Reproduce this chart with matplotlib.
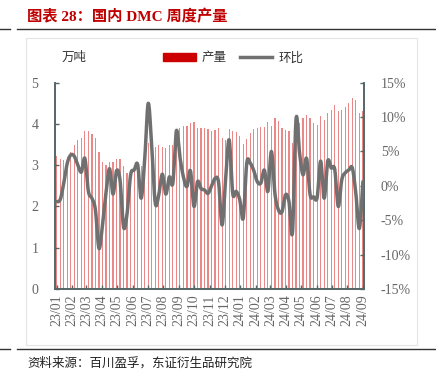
import numpy as np
import pandas as pd
import matplotlib
matplotlib.use('Agg')
import matplotlib.pyplot as plt
import matplotlib.dates as mdates
from matplotlib.patches import Patch, Rectangle
from matplotlib.lines import Line2D

# weekly DMC output (10k t) and week-on-week change (%)
dates = pd.date_range('2023-01-01', periods=88, freq='7D')
output = [3.22, 3.15, 3.13, 3.20, 3.33, 3.49, 3.60, 3.67, 3.83, 3.82,
          3.75, 3.67, 3.33, 3.09, 3.00, 3.09, 3.07, 3.15, 3.16, 2.97,
          2.82, 2.88, 2.95, 3.00, 2.97, 3.00, 3.55, 3.53, 3.43, 3.48,
          3.45, 3.42, 3.48, 3.48, 3.82, 3.90, 3.95, 3.94, 4.02, 4.04,
          3.90, 3.91, 3.90, 3.88, 3.83, 3.86, 3.89, 3.67, 3.61, 3.87,
          3.82, 3.80, 3.70, 3.51, 3.64, 3.78, 3.88, 3.91, 3.93, 3.93,
          4.05, 3.95, 4.14, 4.06, 3.91, 3.85, 3.82, 3.55, 4.10, 4.03,
          4.14, 4.22, 4.14, 4.02, 3.98, 4.20, 4.10, 4.26, 4.35, 4.46,
          4.32, 4.35, 4.42, 4.50, 4.62, 4.58, 4.27, 4.31]
mom = [-2.3, -2.0, 0.4, 3.3, 4.5, 4.3, 3.0, 2.0, 4.0, -0.8,
       -1.8, -3.5, -9.1, -5.7, -1.0, 2.5, -1.2, 2.2, 0.8, -6.0,
       -4.0, 1.6, 2.3, 3.1, -1.8, 3.8, 12.0, 5.7, -2.5, -1.3,
       1.7, -1.2, 1.3, 0.4, 8.0, 4.2, 1.3, -0.1, 2.2, -3.0,
       0.6, -0.4, -0.6, -1.1, 0.0, 1.1, 0.5, -5.7, 1.0, 6.7,
       -1.1, -0.8, -2.0, -4.7, 3.3, 3.3, 2.2, 0.6, 0.4, 2.3,
       -0.8, 5.0, -1.1, -3.5, -3.8, -1.3, -2.3, -6.7, 9.7, 4.8,
       1.6, 4.0, -1.3, -1.6, -1.7, 3.6, -1.8, 3.6, 2.6, 2.4,
       -3.0, 0.9, 1.9, 2.3, 2.6, -1.1, -6.2, 0.6]


def smooth(x, y, n=12):
    # catmull-rom curve through the points, like excel's smoothed line
    x = np.asarray(x, float)
    y = np.asarray(y, float)
    xs, ys = [], []
    t = np.linspace(0, 1, n, endpoint=False)
    for i in range(len(x) - 1):
        i0, i3 = max(i - 1, 0), min(i + 2, len(x) - 1)
        for arr, out in ((x, xs), (y, ys)):
            p0, p1, p2, p3 = arr[i0], arr[i], arr[i + 1], arr[i3]
            out.extend(0.5 * (2 * p1 + (-p0 + p2) * t
                              + (2 * p0 - 5 * p1 + 4 * p2 - p3) * t ** 2
                              + (-p0 + 3 * p1 - 3 * p2 + p3) * t ** 3))
    xs.append(x[-1])
    ys.append(y[-1])
    return np.array(xs), np.array(ys)


cjk = ['Noto Sans CJK SC', 'DejaVu Sans']
num = ['Liberation Serif', 'Noto Sans CJK SC']
axc = '#556666'
txc = '#666666'
red = '#e04848'
gray = '#707070'

fig = plt.figure(figsize=(4.36, 3.77), dpi=100)

# title, rules and frame
fig.text(27 / 436, 1 - 17 / 377, '图表 28：国内 DMC 周度产量', color='#c00000',
         fontsize=11, fontweight='bold', family=num, va='center')
fig.add_artist(Line2D([0, 10 / 436], [1 - 29 / 377] * 2, color='#333333', lw=1))
fig.add_artist(Line2D([17 / 436, 1], [1 - 29 / 377] * 2, color='#333333', lw=1))
fig.add_artist(Line2D([0, 10 / 436], [1 - 349 / 377] * 2, color='#333333', lw=1))
fig.add_artist(Line2D([17 / 436, 1], [1 - 349 / 377] * 2, color='#333333', lw=1))
fig.add_artist(Rectangle((26 / 436, 1 - 345 / 377), 391 / 436, 307 / 377,
                         fill=False, ec='#e4e4e4', lw=0.8))
fig.text(27 / 436, 1 - 363 / 377, '资料来源：百川盈孚，东证衍生品研究院',
         fontsize=9, family=cjk, va='center', color='#222222')

ax = fig.add_axes([55 / 436, 1 - 289 / 377, 309 / 436, 206.3 / 377])
ax.bar(dates, output, width=2.4, color=red, alpha=0.65, lw=0, zorder=1)
ax.set_ylim(0, 5)
ax.set_yticks(range(6))
ax.set_xlim(pd.Timestamp('2022-12-28 14:00'), pd.Timestamp('2024-09-03 05:00'))
ax.xaxis.set_major_locator(mdates.MonthLocator())
ax.xaxis.set_major_formatter(mdates.DateFormatter('%y/%m'))

ax2 = ax.twinx()
sx, sy = smooth(mdates.date2num(dates), mom)
ax2.plot(sx, sy, color=gray, lw=2.5, solid_capstyle='round', zorder=3)
ax2.set_ylim(-15, 15)
ax2.set_yticks(range(-15, 16, 5))
ax2.set_yticklabels([f'{v}%' for v in range(-15, 16, 5)])

for a in (ax, ax2):
    a.spines['top'].set_visible(False)
    for s in ('left', 'right', 'bottom'):
        a.spines[s].set_color(axc)
        a.spines[s].set_linewidth(1.2)
    a.tick_params(direction='in', color=axc, width=1, length=3, labelcolor=txc,
                  labelsize=10)
    for lab in a.get_xticklabels() + a.get_yticklabels():
        lab.set_family(num)
ax.tick_params(axis='y', pad=12)
ax2.tick_params(axis='y', pad=12)
ax.tick_params(axis='x', rotation=90, pad=4)

fig.text(62 / 436, 1 - 57 / 377, '万吨', fontsize=9, family=cjk, color='#333333',
         va='center')
fig.legend(handles=[Patch(color='#cc0000', label='产量'),
                    Line2D([], [], color=gray, lw=2.5, label='环比')],
           loc='center left', bbox_to_anchor=(152 / 436, 1 - 58 / 377), ncol=2,
           frameon=False, prop={'family': cjk, 'size': 9}, handlelength=2.6,
           handleheight=0.6, columnspacing=1.0, handletextpad=0.5,
           labelcolor='#333333')

fig.savefig('out.png', dpi=100)
